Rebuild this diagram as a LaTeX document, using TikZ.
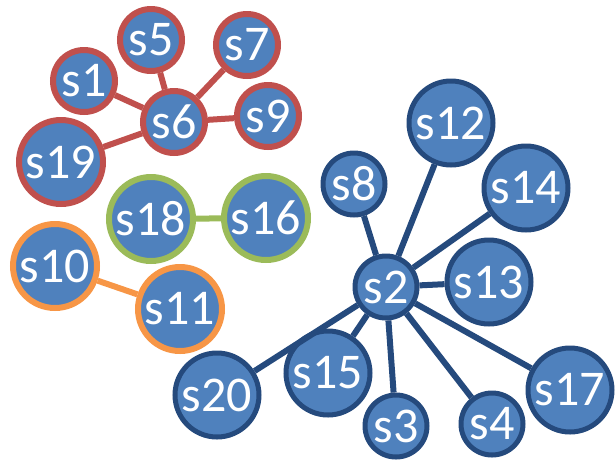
\documentclass[tikz,border=0pt]{standalone}
\usepackage{fontspec}
\setmainfont{Carlito}
\definecolor{nfill}{HTML}{4F81BD}
\definecolor{cred}{HTML}{C0504D}
\definecolor{cgreen}{HTML}{9BBB59}
\definecolor{corange}{HTML}{F79646}
\definecolor{cblue}{HTML}{254A7D}
\begin{document}
\begin{tikzpicture}[x=1pt,y=-1pt]
\useasboundingbox (0,0) rectangle (616,459);
\tikzset{
  nd/.style={circle, fill=nfill, text=white, inner sep=0pt, font=\fontsize{50}{50}\selectfont},
  sm/.style={minimum size=62pt},
  lg/.style={minimum size=84pt},
  rn/.style={nd, draw=cred, line width=6pt},
  gn/.style={nd, draw=cgreen, line width=6pt},
  on/.style={nd, draw=corange, line width=6pt},
  bn/.style={nd, draw=cblue, line width=5pt},
  re/.style={draw=cred, line width=6pt},
  ge/.style={draw=cgreen, line width=6pt},
  oe/.style={draw=corange, line width=6pt},
  be/.style={draw=cblue, line width=6pt}
}
% red cluster
\node[rn,sm] (s5) at (151,40) {s5};
\node[rn,sm] (s7) at (247,45) {s7};
\node[rn,sm] (s1) at (84,81) {s1};
\node[rn,sm] (s6) at (174,122) {s6};
\node[rn,sm] (s9) at (268,116) {s9};
\node[rn,lg] (s19) at (61,162) {s19};
% green
\node[gn,lg] (s18) at (151,219) {s18};
\node[gn,lg] (s16) at (266,218) {s16};
% orange
\node[on,lg] (s10) at (55,266) {s10};
\node[on,lg] (s11) at (180,309) {s11};
% blue
\node[bn,sm] (s2) at (386,287) {s2};
\node[bn,sm] (s8) at (354,184) {s8};
\node[bn,lg] (s12) at (451,123) {s12};
\node[bn,lg] (s14) at (526,188) {s14};
\node[bn,lg] (s13) at (489,282) {s13};
\node[bn,lg] (s20) at (217,395) {s20};
\node[bn,lg] (s15) at (328,373) {s15};
\node[bn,sm] (s3) at (396,426) {s3};
\node[bn,sm] (s4) at (492,424) {s4};
\node[bn,lg] (s17) at (570,390) {s17};
% edges
\foreach \a in {s1,s5,s7,s9,s19} \draw[re] (\a) -- (s6);
\draw[ge] (s18) -- (s16);
\draw[oe] (s10) -- (s11);
\foreach \a in {s8,s12,s14,s13,s20,s15,s3,s4,s17} \draw[be] (s2) -- (\a);
\end{tikzpicture}
\end{document}
